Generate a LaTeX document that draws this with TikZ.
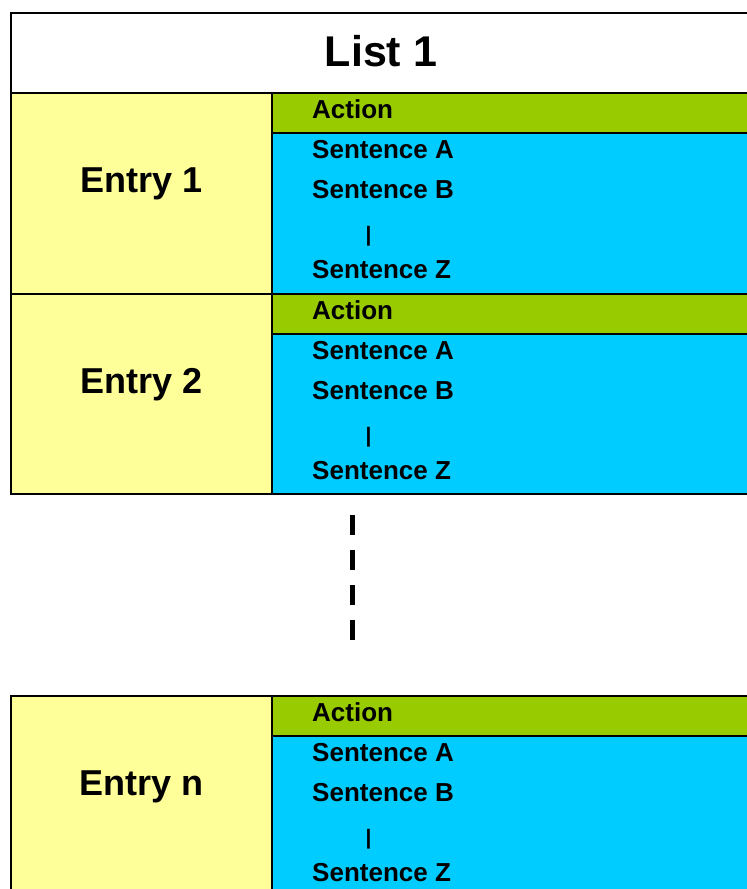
\documentclass[tikz,border=0pt]{standalone}
\usepackage{fontspec}
\setmainfont{Liberation Sans}
\definecolor{entryyellow}{HTML}{FFFF99}
\definecolor{actgreen}{HTML}{99CC00}
\definecolor{sentblue}{HTML}{00CCFF}
\begin{document}
\begin{tikzpicture}[x=1pt,y=-1pt,
  cell/.style={draw=black,line width=2pt},
  txt/.style={font=\fontsize{26}{30}\selectfont\bfseries,anchor=base west,inner sep=0pt},
  bartxt/.style={font=\fontsize{21}{24}\selectfont\bfseries,anchor=center,inner sep=0pt},
  entrytxt/.style={font=\fontsize{36}{40}\selectfont\bfseries,anchor=base,inner sep=0pt},
  titletxt/.style={font=\fontsize{43}{48}\selectfont\bfseries,anchor=base,inner sep=0pt},
  dashline/.style={line width=5pt,dash pattern=on 20pt off 15pt}]
\useasboundingbox (0,0) rectangle (747,889);
\clip (0,0) rectangle (747,889);
\fill[white] (0,0) rectangle (747,889);
% title
\draw[cell,fill=white] (11,13) rectangle (770,93);
\node[titletxt] (title) at (381,66) {List 1};
% entries
\foreach \T/\H/\lab/\nm in {93/201/Entry 1/ea, 294/200/Entry 2/eb, 696/220/Entry n/en}{
  \draw[cell,fill=entryyellow] (11,\T) rectangle (272,{\T+\H});
  \draw[cell,fill=actgreen] (272,\T) rectangle (770,{\T+40});
  \draw[cell,fill=sentblue] (272,{\T+40}) rectangle (770,{\T+\H});
  \node[entrytxt] (\nm-label) at (141.5,{\T+99}) {\lab};
  \node[txt] (\nm-act) at (312,{\T+25}) {Action};
  \node[txt] (\nm-sa) at (312,{\T+65}) {Sentence A};
  \node[txt] (\nm-sb) at (312,{\T+105}) {Sentence B};
  \node[bartxt] (\nm-bar) at (368.5,{\T+143}) {|};
  \node[txt] (\nm-sz) at (312,{\T+185}) {Sentence Z};
}
% dashed continuation
\coordinate (dtop) at (352.5,515);
\coordinate (dbot) at (352.5,640);
\draw[dashline] (dtop) -- (dbot);
\end{tikzpicture}
\end{document}
